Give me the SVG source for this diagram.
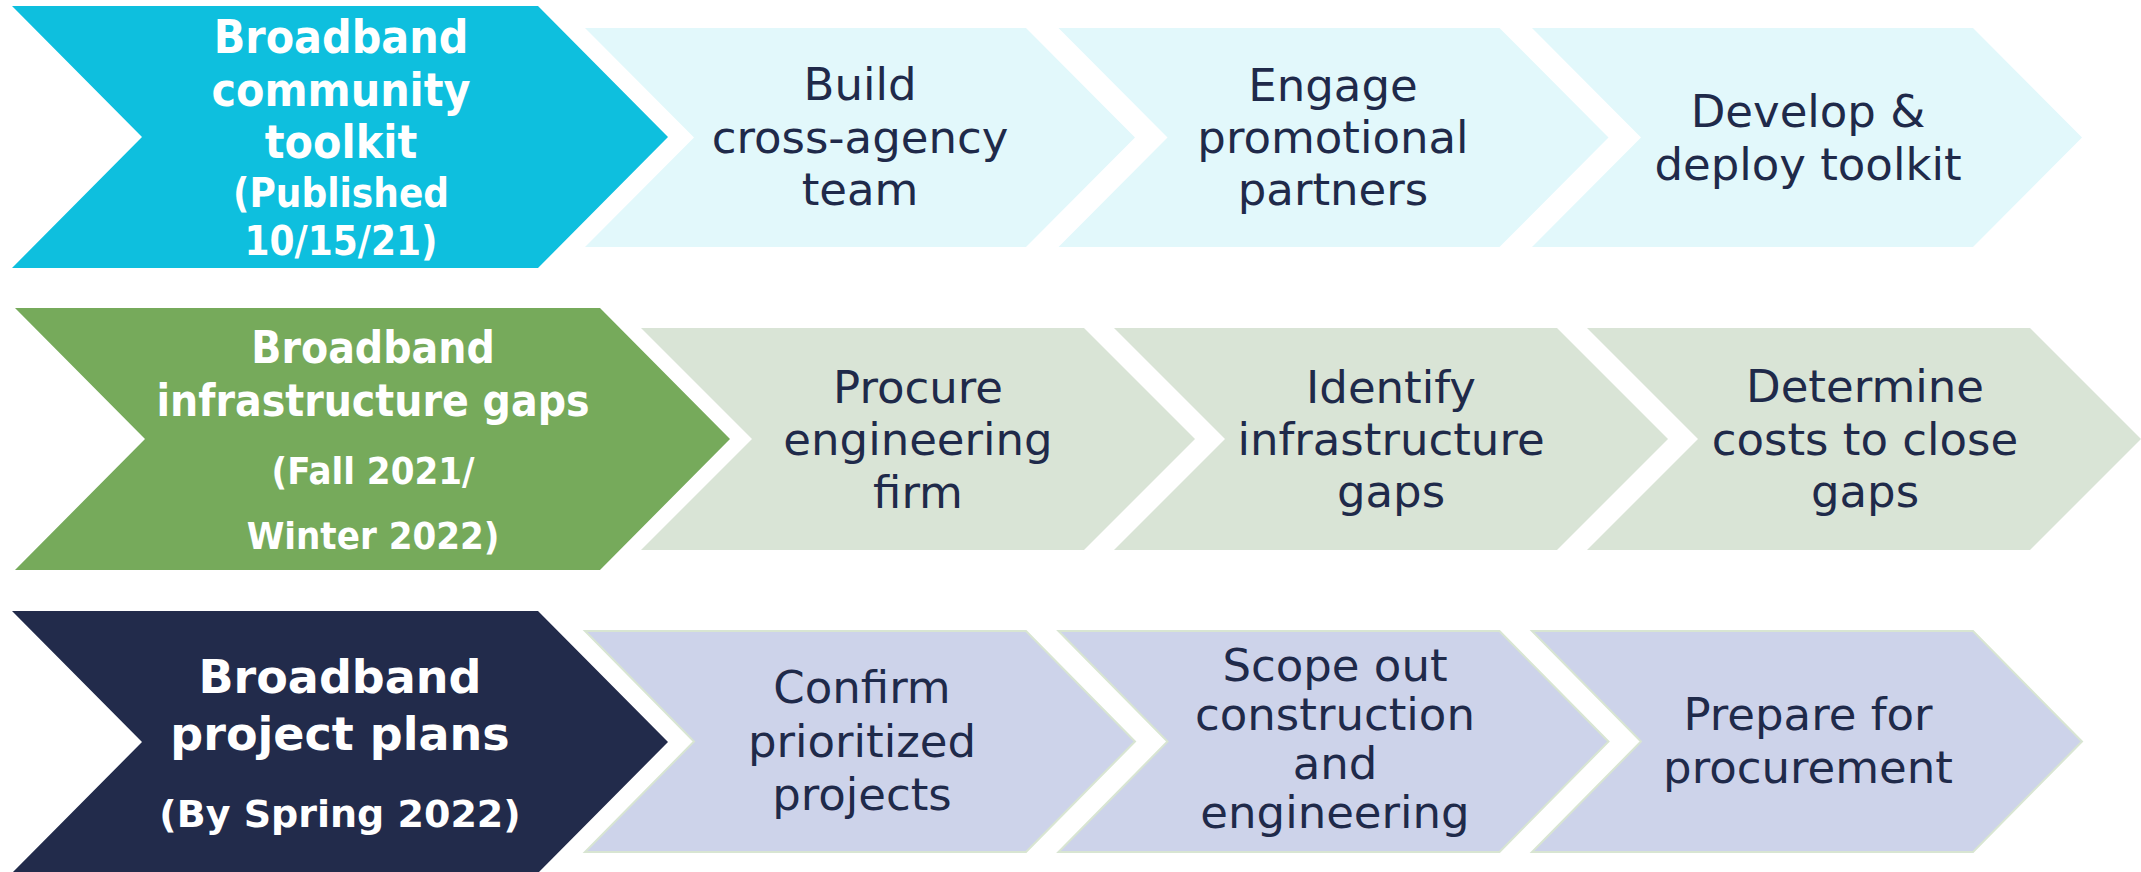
<svg xmlns="http://www.w3.org/2000/svg" width="2141" height="872" viewBox="0 0 2141 872">
<style>
.mt{font-family:"DejaVu Sans",sans-serif;font-weight:bold;fill:#ffffff;text-anchor:middle}
.lt{font-family:"DejaVu Sans",sans-serif;fill:#1f2a4a;text-anchor:middle;font-size:45px}
.cy{fill:#0ebfde}
.lc{fill:#e2f8fb}
.gr{fill:#76aa5b}
.lg{fill:#d9e4d6}
.nv{fill:#222b4b}
.lv{fill:#cdd3ea;stroke:#d8e5d2;stroke-width:2}
</style>
<rect width="2141" height="872" fill="#ffffff"/>
<g id="connectors"></g>

<!-- Row 1 -->
<g id="row1-main">
<polygon class="cy" points="12,6 538,6 668,137 538,268 12,268 142,137"/>
<g transform="translate(341,0) scale(0.9,1)">
<text class="mt" x="0" y="53" font-size="46">Broadband</text>
<text class="mt" x="0" y="106" font-size="46">community</text>
<text class="mt" x="0" y="158" font-size="46">toolkit</text>
<text class="mt" x="0" y="207" font-size="40">(Published</text>
<text class="mt" x="0" y="255" font-size="40">10/15/21)</text>
</g>
</g>
<g id="row1-step1">
<polygon class="lc" points="585,28 1026,28 1135,137.5 1026,247 585,247 694,137.5"/>
<text class="lt" x="860" y="100">Build</text>
<text class="lt" x="860" y="153">cross-agency</text>
<text class="lt" x="860" y="205">team</text>
</g>
<g id="row1-step2">
<polygon class="lc" points="1058.5,28 1499.5,28 1608.5,137.5 1499.5,247 1058.5,247 1167.5,137.5"/>
<text class="lt" x="1333" y="101">Engage</text>
<text class="lt" x="1333" y="153">promotional</text>
<text class="lt" x="1333" y="205">partners</text>
</g>
<g id="row1-step3">
<polygon class="lc" points="1532,28 1973,28 2082,137.5 1973,247 1532,247 1641,137.5"/>
<text class="lt" x="1808" y="127">Develop &amp;</text>
<text class="lt" x="1808" y="180">deploy toolkit</text>
</g>

<!-- Row 2 -->
<g id="row2-main">
<polygon class="gr" points="15,308 600,308 730,439 600,570 15,570 145,439"/>
<g transform="translate(373,0) scale(0.9,1)">
<text class="mt" x="0" y="363" font-size="44">Broadband</text>
<text class="mt" x="0" y="416" font-size="44">infrastructure gaps</text>
<text class="mt" x="0" y="484" font-size="38">(Fall 2021/</text>
<text class="mt" x="0" y="549" font-size="38">Winter 2022)</text>
</g>
</g>
<g id="row2-step1">
<polygon class="lg" points="641,328 1084,328 1195,439 1084,550 641,550 752,439"/>
<text class="lt" x="918" y="403">Procure</text>
<text class="lt" x="918" y="455">engineering</text>
<text class="lt" x="918" y="508">firm</text>
</g>
<g id="row2-step2">
<polygon class="lg" points="1114,328 1557,328 1668,439 1557,550 1114,550 1225,439"/>
<text class="lt" x="1391" y="403">Identify</text>
<text class="lt" x="1391" y="455">infrastructure</text>
<text class="lt" x="1391" y="507">gaps</text>
</g>
<g id="row2-step3">
<polygon class="lg" points="1587,328 2030,328 2141,439 2030,550 1587,550 1698,439"/>
<text class="lt" x="1865" y="402">Determine</text>
<text class="lt" x="1865" y="455">costs to close</text>
<text class="lt" x="1865" y="507">gaps</text>
</g>

<!-- Row 3 -->
<g id="row3-main">
<polygon class="nv" points="12,611 538,611 668,742 538,873 12,873 142,742"/>
<text class="mt" x="340" y="693" font-size="46">Broadband</text>
<text class="mt" x="340" y="750" font-size="46">project plans</text>
<text class="mt" x="340" y="827" font-size="38">(By Spring 2022)</text>
</g>
<g id="row3-step1">
<polygon class="lv" points="585,631 1026,631 1135,741.5 1026,852 585,852 694,741.5"/>
<text class="lt" x="862" y="703">Confirm</text>
<text class="lt" x="862" y="757">prioritized</text>
<text class="lt" x="862" y="810">projects</text>
</g>
<g id="row3-step2">
<polygon class="lv" points="1058.5,631 1499.5,631 1608.5,741.5 1499.5,852 1058.5,852 1167.5,741.5"/>
<text class="lt" x="1335" y="681" font-size="37">Scope out</text>
<text class="lt" x="1335" y="730" font-size="37">construction</text>
<text class="lt" x="1335" y="779" font-size="37">and</text>
<text class="lt" x="1335" y="828" font-size="37">engineering</text>
</g>
<g id="row3-step3">
<polygon class="lv" points="1532,631 1973,631 2082,741.5 1973,852 1532,852 1641,741.5"/>
<text class="lt" x="1808" y="730">Prepare for</text>
<text class="lt" x="1808" y="783">procurement</text>
</g>
</svg>
